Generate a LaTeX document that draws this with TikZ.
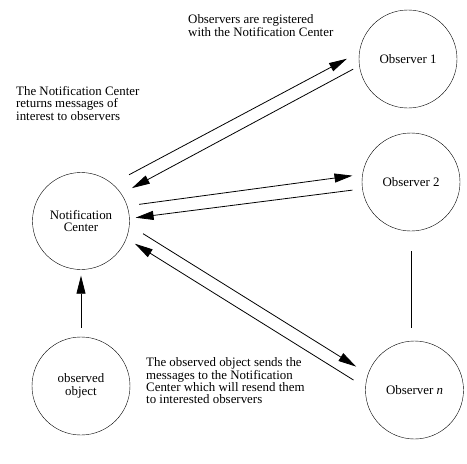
\documentclass[tikz,border=0pt]{standalone}
\usepackage{fontspec}
\setmainfont{Liberation Serif}
\usepackage{tikz}
\usetikzlibrary{arrows.meta}

\begin{document}
\begin{tikzpicture}[
    x=1pt,y=-1pt,
    party/.style={draw,circle,thin,inner sep=0pt,minimum size=98pt,align=center,
      font=\fontsize{12.9}{12.4}\selectfont},
    note/.style={inner sep=0pt,align=left,anchor=north west,
      font=\fontsize{12.9}{12.4}\selectfont},
    msg/.style={line width=0.8pt,->,>={Triangle[length=18pt,width=9pt]}},
    link/.style={line width=0.8pt}]

  \useasboundingbox (0,0) rectangle (467,464);

  \node[party] (obsone) at (408,59) {Observer 1};
  \node[party] (obstwo) at (411,182) {Observer 2};
  \node[party] (obsn) at (414.5,390) {Observer \textit{n}};
  \node[party,minimum size=97pt] (nc) at (81,221) {Notification\\Center};
  \node[party] (obj) at (81,386) {observed\\object};

  \node[note] (regnote) at (188,14.5)
    {Observers are registered\\with the Notification Center};
  \node[note] (retnote) at (16,86)
    {The Notification Center\\returns messages of\\interest to observers};
  \node[note] (sendnote) at (146,357.5)
    {The observed object sends the\\messages to the Notification\\Center which will resend them\\to interested observers};

  \draw[msg,shorten <=19pt,shorten >=14pt] (nc.50) -- (obsone.172);
  \draw[msg,shorten <=7pt,shorten >=12pt] (obsone.188) -- (nc.34);
  \draw[msg,shorten <=12pt,shorten >=10pt] (nc.18) -- (obstwo.171);
  \draw[msg,shorten <=10pt,shorten >=6pt] (obstwo.188) -- (nc.3);
  \draw[msg,shorten <=16pt,shorten >=14pt] (nc.-5) -- (obsn.161);
  \draw[msg,shorten <=14pt,shorten >=10pt] (obsn.177) -- (nc.-21);
  \draw[msg,shorten <=9pt,shorten >=6pt] (obj.north) -- (nc.south);

  \draw[link,shorten <=20pt,shorten >=13pt]
    (obstwo.south) -- (obstwo.south |- obsn.north);
\end{tikzpicture}
\end{document}
